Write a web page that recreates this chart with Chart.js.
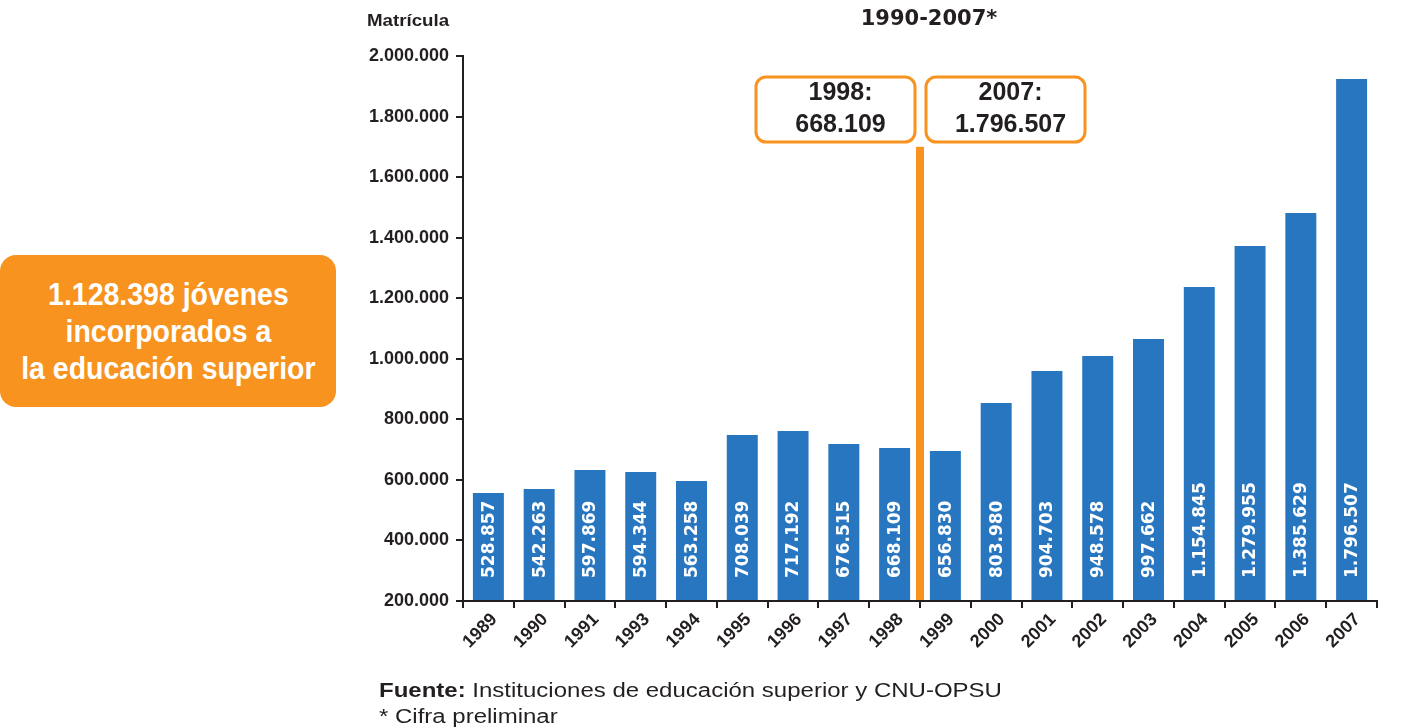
<!DOCTYPE html>
<html>
<head>
<meta charset="utf-8">
<script src="https://cdn.jsdelivr.net/npm/chart.js@4.4.1/dist/chart.umd.min.js"></script>
<style>
  html, body { margin: 0; padding: 0; background: #fff; }
  body { width: 1402px; height: 727px; position: relative; overflow: hidden; font-family: 'Liberation Sans', Arial, sans-serif; color: #231f20; }
  #wrap { position: absolute; left: 0; top: 0; width: 1402px; height: 727px; }
  .title { position: absolute; left: 829px; top: 6px; width: 200px; text-align: center; font: bold 21px 'DejaVu Sans', sans-serif; }
  .ylabel { position: absolute; left: 367px; top: 11px; font: bold 17px 'Liberation Sans', Arial, sans-serif; transform: scaleX(1.1); transform-origin: left center; }
  .callout { position: absolute; left: 0; top: 255px; width: 336px; height: 152px; background: #f7931e; border-radius: 16px;
    display: flex; align-items: center; justify-content: center; text-align: center;
    color: #fff; font: bold 32px 'Liberation Sans', Arial, sans-serif; line-height: 37px; }
  .callout div { transform: scaleX(0.89); white-space: nowrap; }
  .source { position: absolute; left: 379px; top: 677px; font: 20px 'Liberation Sans', Arial, sans-serif; line-height: 26px;
    transform: scaleX(1.2); transform-origin: left top; white-space: nowrap; }
</style>
</head>
<body>
<div id="wrap"><canvas id="chart" width="1402" height="727"></canvas></div>
<div class="title">1990-2007*</div>
<div class="ylabel">Matrícula</div>
<div class="callout"><div>1.128.398 jóvenes<br>incorporados a<br>la educación superior</div></div>
<div class="source"><b>Fuente:</b> Instituciones de educación superior y CNU-OPSU<br>* Cifra preliminar</div>
<script>
// ---- data ----
const years = ['1989', '1990', '1991', '1993', '1994', '1995', '1996', '1997', '1998',
  '1999', '2000', '2001', '2002', '2003', '2004', '2005', '2006', '2007'];
// bar heights as drawn in the picture
const barHeights = [556700, 569900, 632700, 626100, 596400, 748300, 761500, 718600, 705400,
  695500, 854000, 959700, 1009200, 1065400, 1237100, 1372600, 1481600, 1924200];
// figures printed inside the bars
const barLabels = ['528.857', '542.263', '597.869', '594.344', '563.258', '708.039', '717.192', '676.515', '668.109',
  '656.830', '803.980', '904.703', '948.578', '997.662', '1.154.845', '1.279.955', '1.385.629', '1.796.507'];
const yTicks = [200000, 400000, 600000, 800000, 1000000, 1200000, 1400000, 1600000, 1800000, 2000000];
const callouts = [['1998:', '668.109'], ['2007:', '1.796.507']];
const markerTop = 1700000;

const BLUE = '#2776bf';
const ORANGE = '#f7931e';
const INK = '#231f20';

const fmt = v => v.toString().replace(/\B(?=(\d{3})+(?!\d))/g, '.');

function roundRect(ctx, x, y, w, h, r) {
  ctx.beginPath();
  ctx.moveTo(x + r, y);
  ctx.arcTo(x + w, y, x + w, y + h, r);
  ctx.arcTo(x + w, y + h, x, y + h, r);
  ctx.arcTo(x, y + h, x, y, r);
  ctx.arcTo(x, y, x + w, y, r);
  ctx.closePath();
}

// ---- labels inside bars, marker line and the two boxes ----
const extras = {
  id: 'extras',
  afterDatasetsDraw(chart) {
    const ctx = chart.ctx;
    const xs = chart.scales.x, ys = chart.scales.y;
    const area = chart.chartArea;

    ctx.save();
    ctx.fillStyle = '#fff';
    ctx.font = "bold 17px 'DejaVu Sans', sans-serif";
    ctx.textAlign = 'left';
    ctx.textBaseline = 'middle';
    chart.getDatasetMeta(0).data.forEach((bar, i) => {
      ctx.save();
      ctx.translate(bar.x + 1, area.bottom - 23);
      ctx.rotate(-Math.PI / 2);
      ctx.fillText(barLabels[i], 0, 0);
      ctx.restore();
    });
    ctx.restore();

    // orange marker between 1998 and 1999
    const mx = (xs.getPixelForValue(8) + xs.getPixelForValue(9)) / 2;
    ctx.save();
    ctx.fillStyle = ORANGE;
    const top = ys.getPixelForValue(markerTop);
    ctx.fillRect(mx - 4, top, 8, area.bottom - top - 1);

    // boxes
    const bw = 159, bh = 65, by = area.top + 21;
    const boxX = [mx - 5 - bw, mx + 6];
    ctx.lineWidth = 3;
    ctx.strokeStyle = ORANGE;
    ctx.fillStyle = INK;
    ctx.font = "bold 25px 'Liberation Sans', Arial, sans-serif";
    ctx.textAlign = 'center';
    ctx.textBaseline = 'middle';
    callouts.forEach((lines, k) => {
      roundRect(ctx, boxX[k], by, bw, bh, 10);
      ctx.stroke();
      const cx = boxX[k] + bw / 2 + 5;
      ctx.fillText(lines[0], cx, by + 16);
      ctx.fillText(lines[1], cx, by + 48);
    });
    ctx.restore();
  }
};

new Chart(document.getElementById('chart'), {
  type: 'bar',
  data: {
    labels: years,
    datasets: [{
      data: barHeights,
      base: 200000,
      backgroundColor: BLUE,
      barPercentage: 0.61,
      categoryPercentage: 1
    }]
  },
  options: {
    responsive: false,
    animation: false,
    events: [],
    layout: { padding: { top: 56, right: 25, left: 0, bottom: 0 } },
    plugins: { legend: { display: false }, tooltip: { enabled: false } },
    scales: {
      x: {
        grid: { drawOnChartArea: false, color: INK, lineWidth: 2, tickLength: 7, offset: true },
        border: { color: INK, width: 2 },
        ticks: {
          color: INK, font: { family: "'Liberation Sans', Arial, sans-serif", size: 18, weight: 'bold' },
          maxRotation: 45, minRotation: 45, padding: 1, autoSkip: false, labelOffset: 6
        },
        afterFit(scale) { scale.height = 126; }
      },
      y: {
        min: 200000, max: 2000000,
        afterBuildTicks(scale) { scale.ticks = yTicks.map(v => ({ value: v })); },
        grid: { drawOnChartArea: false, color: INK, lineWidth: 2, tickLength: 7 },
        border: { color: INK, width: 2 },
        ticks: {
          color: INK, padding: 7,
          font: { family: "'Liberation Sans', Arial, sans-serif", size: 18, weight: 'bold' },
          callback: v => fmt(v)
        },
        afterFit(scale) { scale.width = 463; }
      }
    }
  },
  plugins: [extras]
});
</script>
</body>
</html>
